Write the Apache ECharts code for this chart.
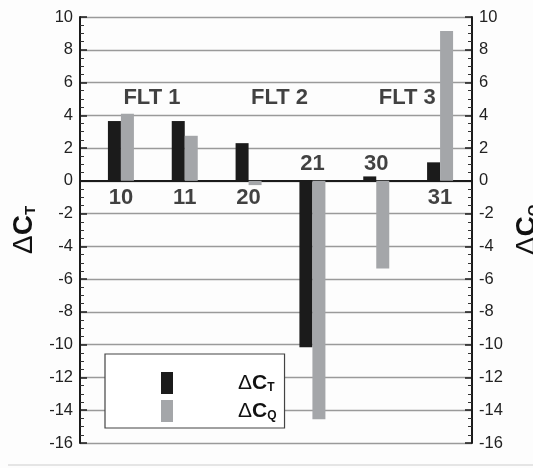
<!DOCTYPE html>
<html>
<head>
<meta charset="utf-8">
<script src="https://cdn.jsdelivr.net/npm/echarts@6/dist/echarts.min.js"></script>
<style>
html,body{margin:0;padding:0;background:#fdfdfd;}
#c{width:533px;height:468px;}
</style>
</head>
<body>
<div id="c"></div>
<script>
// Data
const categories = ['10', '11', '20', '21', '30', '31'];
const deltaCT = [3.65, 3.65, 2.3, -10.15, 0.27, 1.13];
const deltaCQ = [4.1, 2.75, -0.26, -14.55, -5.35, 9.15];
const flights = ['FLT 1', 'FLT 2', 'FLT 3'];
const flightLabelLevel = 5.05;
const yTicks = [10, 8, 6, 4, 2, 0, -2, -4, -6, -8, -10, -12, -14, -16];

const FONT = '"Liberation Sans", Arial, sans-serif';
const BLACK = '#1b1b1b';
const GRAY = '#a4a6a9';

const catLabelData = categories.map((c, i) => {
  const above = deltaCT[i] + deltaCQ[i] < 0;
  return { value: [i, 0], name: c, label: { position: above ? 'top' : 'bottom', distance: 6 } };
});
// each flight label sits over the gap between its two test-point categories
const flightData = flights.map((f, k) => ({ value: [2 * k, flightLabelLevel], name: f }));

const yMin = yTicks[yTicks.length - 1], yMax = yTicks[0];

const nameRich = () => ({
  d: { fontSize: 28, fontFamily: FONT, color: '#111', fontWeight: 'normal' },
  c: { fontSize: 28, fontFamily: FONT, color: '#111', fontWeight: 'bold' },
  s: { fontSize: 15, fontFamily: FONT, color: '#111', fontWeight: 'bold', verticalAlign: 'bottom', padding: [12, 0, 0, 0] }
});

const yAxisCommon = {
  type: 'value', min: yMin, max: yMax, interval: 2, gridIndex: 0,
  axisLine: { show: true, onZero: false, lineStyle: { color: BLACK, width: 2 } },
  axisTick: { show: true, inside: true, length: 7, lineStyle: { color: BLACK, width: 1.5 } },
  minorTick: { show: true, splitNumber: 4, length: 4, lineStyle: { color: '#333', width: 1 } },
  axisLabel: { fontSize: 16.5, fontFamily: FONT, color: '#222', margin: 7 },
  nameLocation: 'middle', nameRotate: 90,
};
const hiddenY = { type: 'value', min: yMin, max: yMax, gridIndex: 1, show: false };

const chart = echarts.init(document.getElementById('c'));
chart.setOption({
  backgroundColor: '#fdfdfd',
  animation: false,
  grid: [
    { left: 80, right: 61, top: 17, bottom: 25, containLabel: false, outerBoundsMode: 'none' },
    { left: 89, right: 61, top: 17, bottom: 25, containLabel: false, outerBoundsMode: 'none' }
  ],
  xAxis: [
    {
      type: 'value', min: 0, max: 1, gridIndex: 0,
      axisLine: { show: true, onZero: true, lineStyle: { color: BLACK, width: 2 } },
      axisTick: { show: false }, axisLabel: { show: false }, splitLine: { show: false }
    },
    { type: 'category', data: categories, gridIndex: 1, show: false, boundaryGap: true }
  ],
  yAxis: [
    Object.assign({}, yAxisCommon, {
      position: 'left',
      name: '{d|Δ}{c|C}{s|T}', nameGap: 42,
      nameTextStyle: { rich: nameRich() },
      splitLine: { show: true, lineStyle: { color: '#9a9a9a', width: 1.3 } }
    }),
    Object.assign({}, yAxisCommon, {
      position: 'right',
      name: '{d|Δ}{c|C}{s|Q}', nameGap: 29,
      nameTextStyle: { rich: nameRich() },
      splitLine: { show: false }
    }),
    Object.assign({}, hiddenY),
    Object.assign({}, hiddenY, { position: 'right' })
  ],
  legend: {
    orient: 'vertical', left: 105, top: 354,
    data: ['dCT', 'dCQ'],
    icon: 'rect', itemWidth: 12, itemHeight: 22, itemGap: 6,
    padding: [18, 8, 6, 56],
    borderColor: '#444', borderWidth: 1.2, backgroundColor: '#fff', borderRadius: 0,
    formatter: (n) => n === 'dCT' ? '{d|Δ}{c|C}{s|T}' : '{d|Δ}{c|C}{s|Q}',
    textStyle: {
      padding: [0, 0, 0, 60],
      rich: {
        d: { fontSize: 21, fontFamily: FONT, color: '#111' },
        c: { fontSize: 21, fontFamily: FONT, color: '#111', fontWeight: 'bold' },
        s: { fontSize: 12, fontFamily: FONT, color: '#111', fontWeight: 'bold', verticalAlign: 'bottom', padding: [10, 0, 0, 0] }
      }
    }
  },
  graphic: [
    { type: 'line', shape: { x1: 8, y1: 465, x2: 533, y2: 465 }, style: { stroke: '#dcdcdc', lineWidth: 1.5 } }
  ],
  series: [
    {
      name: 'dCT', type: 'bar', xAxisIndex: 1, yAxisIndex: 2, data: deltaCT,
      barWidth: 13, barGap: '0%', itemStyle: { color: BLACK }
    },
    {
      name: 'dCQ', type: 'bar', xAxisIndex: 1, yAxisIndex: 3, data: deltaCQ,
      barWidth: 13, barGap: '0%', itemStyle: { color: GRAY }
    },
    {
      type: 'scatter', data: catLabelData, symbolSize: 0, xAxisIndex: 1, yAxisIndex: 2,
      label: { show: true, formatter: (p) => p.name, fontSize: 22, fontWeight: 'bold', fontFamily: FONT, color: '#111' },
      silent: true
    },
    {
      type: 'scatter', data: flightData, symbolSize: 0, xAxisIndex: 1, yAxisIndex: 2,
      label: { show: true, position: 'inside', offset: [31, 0], formatter: (p) => p.name, fontSize: 22, fontWeight: 'bold', fontFamily: FONT, color: '#111' },
      silent: true
    }
  ]
});
</script>
</body>
</html>
